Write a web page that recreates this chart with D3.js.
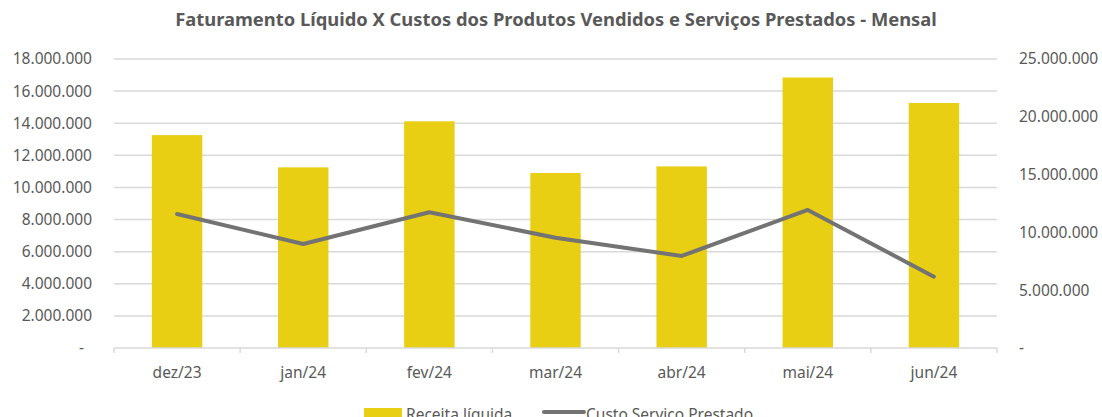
<!DOCTYPE html>
<html>
<head>
<meta charset="utf-8">
<script src="https://cdn.jsdelivr.net/npm/d3@7"></script>
<style>
  body { margin: 0; background: #fff; }
  text { font-family: "Noto Sans", sans-serif; fill: #595959; }
</style>
</head>
<body>
<svg id="chart"></svg>
<script>
// Data
var months = ["dez/23", "jan/24", "fev/24", "mar/24", "abr/24", "mai/24", "jun/24"];
var receita = [13260000, 11250000, 14120000, 10900000, 11310000, 16850000, 15260000];
var custo = [11590000, 9000000, 11740000, 9540000, 7960000, 11940000, 6170000];
var leftTicks = [0, 2000000, 4000000, 6000000, 8000000, 10000000, 12000000, 14000000, 16000000, 18000000];
var rightTicks = [0, 5000000, 10000000, 15000000, 20000000, 25000000];

var width = 1102, height = 417;
var margin = { top: 59, right: 105, bottom: 69, left: 114 };
var innerW = width - margin.left - margin.right,
    innerH = height - margin.top - margin.bottom;

var svg = d3.select("#chart")
    .attr("width", width)
    .attr("height", height);

var g = svg.append("g")
    .attr("transform", "translate(" + margin.left + "," + margin.top + ")");

var x = d3.scaleBand()
    .domain(months)
    .range([0, innerW])
    .paddingInner(0.6)
    .paddingOuter(0.3);

var yLeft = d3.scaleLinear().domain([0, 18000000]).range([innerH, 0]);
var yRight = d3.scaleLinear().domain([0, 25000000]).range([innerH, 0]);

// pt-BR number format with dots
var fmt = function(v) {
    return v === 0 ? "-" : d3.format(",")(v).replace(/,/g, ".");
};

// gridlines
g.selectAll(".grid")
    .data(leftTicks.slice(1))
    .enter().append("line")
    .attr("x1", 0).attr("x2", innerW)
    .attr("y1", d => yLeft(d)).attr("y2", d => yLeft(d))
    .attr("stroke", "#d9d9d9")
    .attr("stroke-width", 1.5);

// left axis labels
g.selectAll(".ltick")
    .data(leftTicks)
    .enter().append("text")
    .attr("x", d => d === 0 ? -30 : -22)
    .attr("y", d => yLeft(d))
    .attr("dy", "0.35em")
    .attr("text-anchor", "end")
    .style("font-size", "15.5px")
    .text(fmt);

// right axis labels
g.selectAll(".rtick")
    .data(rightTicks)
    .enter().append("text")
    .attr("x", innerW + 22)
    .attr("y", d => yRight(d))
    .attr("dy", "0.35em")
    .attr("text-anchor", "start")
    .style("font-size", "15.5px")
    .text(fmt);

// bars
g.selectAll(".bar")
    .data(months)
    .enter().append("rect")
    .attr("x", d => x(d))
    .attr("width", x.bandwidth())
    .attr("y", (d, i) => yLeft(receita[i]))
    .attr("height", (d, i) => innerH - yLeft(receita[i]))
    .attr("fill", "#e8cf14");

// x axis line and ticks
g.append("line")
    .attr("x1", 0).attr("x2", innerW)
    .attr("y1", innerH).attr("y2", innerH)
    .attr("stroke", "#d9d9d9").attr("stroke-width", 1.5);

var step = x.step();
var bounds = d3.range(months.length + 1).map(i => i * innerW / months.length);
g.selectAll(".xtick")
    .data(bounds)
    .enter().append("line")
    .attr("x1", d => d).attr("x2", d => d)
    .attr("y1", innerH).attr("y2", innerH + 5)
    .attr("stroke", "#d9d9d9").attr("stroke-width", 1.5);

g.selectAll(".xlabel")
    .data(months)
    .enter().append("text")
    .attr("x", d => x(d) + x.bandwidth() / 2)
    .attr("y", innerH + 30)
    .attr("text-anchor", "middle")
    .style("font-size", "15.5px")
    .text(d => d);

// line
var line = d3.line()
    .x((d, i) => x(months[i]) + x.bandwidth() / 2)
    .y(d => yRight(d));

g.append("path")
    .datum(custo)
    .attr("d", line)
    .attr("fill", "none")
    .attr("stroke", "#737373")
    .attr("stroke-width", 4)
    .attr("stroke-linejoin", "round")
    .attr("stroke-linecap", "round");

// title
var title = svg.append("text")
    .attr("x", 556)
    .attr("y", 26)
    .attr("text-anchor", "middle")
    .style("font-size", "17px")
    .style("font-weight", "bold")
    .text("Faturamento Líquido X Custos dos Produtos Vendidos e Serviços Prestados - Mensal");
var tw = title.node().getComputedTextLength();
title.style("font-size", (17 * 762 / tw) + "px");

// legend
var legend = svg.append("g");
legend.append("rect")
    .attr("x", 364).attr("y", 408)
    .attr("width", 38).attr("height", 12)
    .attr("fill", "#e8cf14");
legend.append("text")
    .attr("x", 406).attr("y", 420)
    .style("font-size", "15.5px")
    .text("Receita líquida");
legend.append("line")
    .attr("x1", 544).attr("x2", 584)
    .attr("y1", 412).attr("y2", 412)
    .attr("stroke", "#737373").attr("stroke-width", 4)
    .attr("stroke-linecap", "round");
legend.append("text")
    .attr("x", 586).attr("y", 420)
    .style("font-size", "15.5px")
    .text("Custo Serviço Prestado");
</script>
</body>
</html>
